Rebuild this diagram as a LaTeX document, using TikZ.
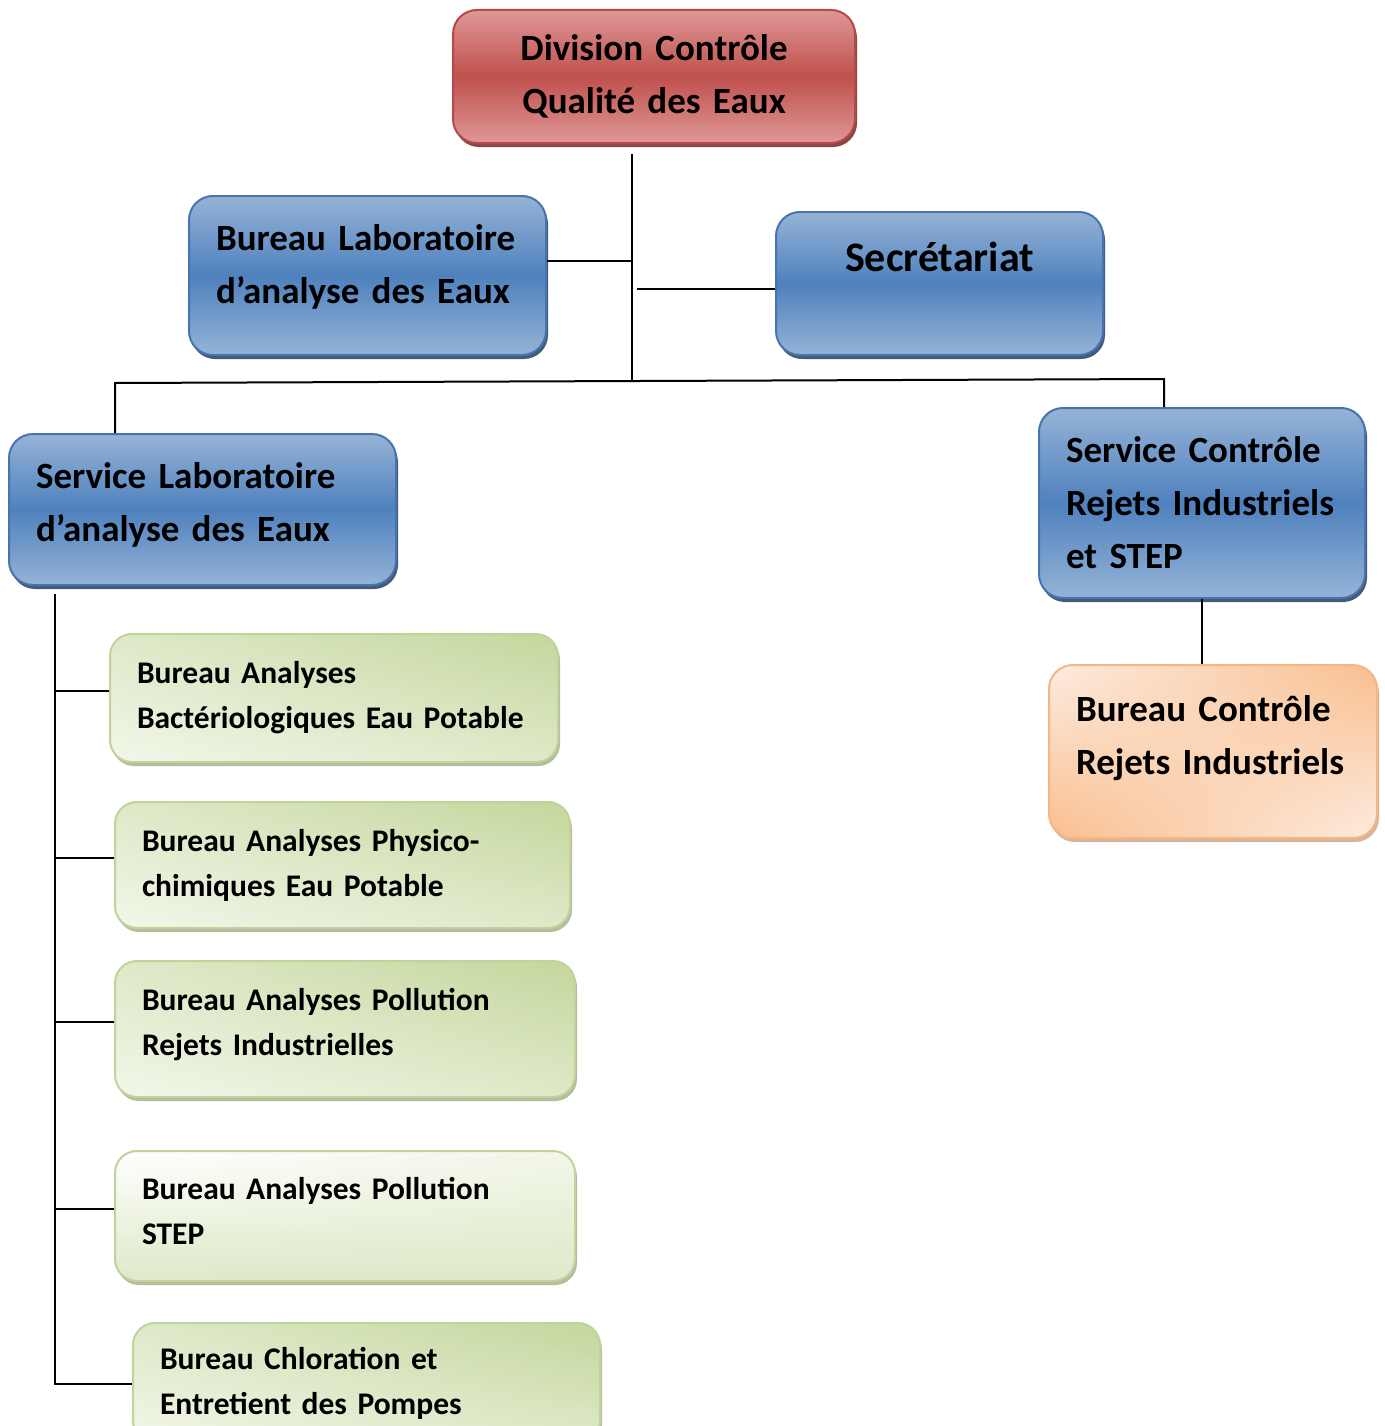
\documentclass[tikz,border=0pt]{standalone}
\usepackage{fontspec}
\setmainfont{Carlito}
\usepackage{tikz}
\usetikzlibrary{positioning,shadows,shadings,calc}
\definecolor{bluelight}{RGB}{149,179,215}
\definecolor{bluemid}{RGB}{79,129,189}
\definecolor{blueedge}{RGB}{70,116,172}
\definecolor{blueshade}{RGB}{36,62,98}
\definecolor{redlight}{RGB}{222,152,150}
\definecolor{redmid}{RGB}{192,80,77}
\definecolor{rededge}{RGB}{182,72,69}
\definecolor{redshade}{RGB}{118,38,36}
\definecolor{greendark}{RGB}{196,214,156}
\definecolor{greenmid}{RGB}{222,233,200}
\definecolor{greenlight}{RGB}{242,246,233}
\definecolor{greenedge}{RGB}{192,211,152}
\definecolor{greenshade}{RGB}{150,160,118}
\definecolor{orangedark}{RGB}{249,190,142}
\definecolor{orangelight}{RGB}{253,236,224}
\definecolor{orangeedge}{RGB}{246,182,132}
\definecolor{orangeshade}{RGB}{196,150,114}
\tikzset{
  unitbox/.style={rounded corners=24pt, line width=2pt, align=left, inner xsep=27pt, inner ysep=0pt, font=\bfseries\fontsize{37}{53}\selectfont},
  redbox/.style={unitbox, align=center, draw=rededge, top color=redlight, bottom color=redlight, middle color=redmid, drop shadow={shadow xshift=2pt, shadow yshift=-4pt, fill=redshade, opacity=.85}},
  bluebox/.style={unitbox, draw=blueedge, top color=bluelight, bottom color=bluelight, middle color=bluemid, drop shadow={shadow xshift=2pt, shadow yshift=-4pt, fill=blueshade, opacity=.85}},
  greenbox/.style={unitbox, rounded corners=22pt, font=\bfseries\fontsize{31.5}{45}\selectfont, draw=greenedge, upper left=greenmid, upper right=greendark, lower left=greenlight, lower right=greenmid, drop shadow={shadow xshift=2pt, shadow yshift=-4pt, fill=greenshade, opacity=.7}},
  greenpale/.style={greenbox, upper left=white, upper right=greenlight, lower left=greenmid, lower right=greenmid},
  orangebox/.style={unitbox, draw=orangeedge, upper left=orangelight, upper right=orangedark, lower left=orangedark, lower right=orangelight, drop shadow={shadow xshift=2pt, shadow yshift=-4pt, fill=orangeshade, opacity=.7}},
  link/.style={line width=2pt, draw=black},
}
\begin{document}
\begin{tikzpicture}[x=1pt,y=-1pt]
  \clip[use as bounding box] (0,0) rectangle (1384,1426);
  % division and staff
  \node[redbox, minimum width=402pt, minimum height=133pt, text width=348pt] (div) at (654,76.5) {Division Contrôle\\Qualité des Eaux};
  \node[bluebox, minimum width=357pt, minimum height=159pt, text width=303pt, text depth=75pt] (burlab) at (367.5,275.5) {Bureau Laboratoire\\d’analyse des Eaux};
  \node[bluebox, align=center, font=\bfseries\fontsize{42}{53}\selectfont, minimum width=327pt, minimum height=143pt, text width=273pt] (secr) at (939.5,283.5) {Secrétariat\\\mbox{}};
  % services
  \node[bluebox, minimum width=387pt, minimum height=151pt, text width=333pt, text depth=67pt] (servlab) at (202.5,509.5) {Service Laboratoire\\d’analyse des Eaux};
  \node[bluebox, minimum width=326pt, minimum height=190pt, text width=272pt] (servctl) at (1202,503) {Service Contrôle\\Rejets Industriels\\et STEP};
  \node[orangebox, minimum width=328pt, minimum height=173pt, text width=274pt, text depth=85pt] (burctl) at (1213,751.5) {Bureau Contrôle\\Rejets Industriels};
  % bureaux of the laboratory
  \node[greenbox, minimum width=448pt, minimum height=128pt, text width=394pt] (bact) at (334,698) {Bureau Analyses\\Bactériologiques Eau Potable};
  \node[greenbox, minimum width=455pt, minimum height=126pt, text width=401pt] (phys) at (342.5,865) {Bureau Analyses Physico-\\chimiques Eau Potable};
  \node[greenbox, minimum width=460pt, minimum height=136pt, text width=406pt, text depth=60pt] (polri) at (345,1029) {Bureau Analyses Pollution\\Rejets Industrielles};
  \node[greenpale, minimum width=460pt, minimum height=130pt, text width=406pt, text depth=56pt] (polstep) at (345,1216) {Bureau Analyses Pollution\\STEP};
  \node[greenbox, minimum width=467pt, minimum height=120pt, text width=413pt] (chlor) at (366.5,1383) {Bureau Chloration et\\Entretient des Pompes};
  % links
  \coordinate (trunk) at (632,380);
  \coordinate (lbar) at (115,383);
  \coordinate (rbar) at (1164,379);
  \coordinate (ltop) at (55,594);
  \coordinate (lbot) at (55,1384);
  \draw[link, shorten <=10pt] (div.south -| trunk) -- (trunk);
  \draw[link] ([yshift=15pt]burlab.east) -- ([yshift=15pt]burlab.east -| trunk);
  \draw[link] ([yshift=-5pt]secr.west) -- ++(-138,0);
  \draw[link] (servlab.north -| lbar) -- (lbar) -- (rbar) -- (servctl.north -| rbar);
  \draw[link] (servctl.south) -- (servctl.south |- burctl.north);
  \draw[link] (ltop) -- (lbot) -- (chlor.west |- lbot);
  \foreach \n in {bact,phys,polri,polstep}
    \draw[link] ([yshift=7pt]\n.west) -- ([yshift=7pt]\n.west -| ltop);
\end{tikzpicture}
\end{document}
